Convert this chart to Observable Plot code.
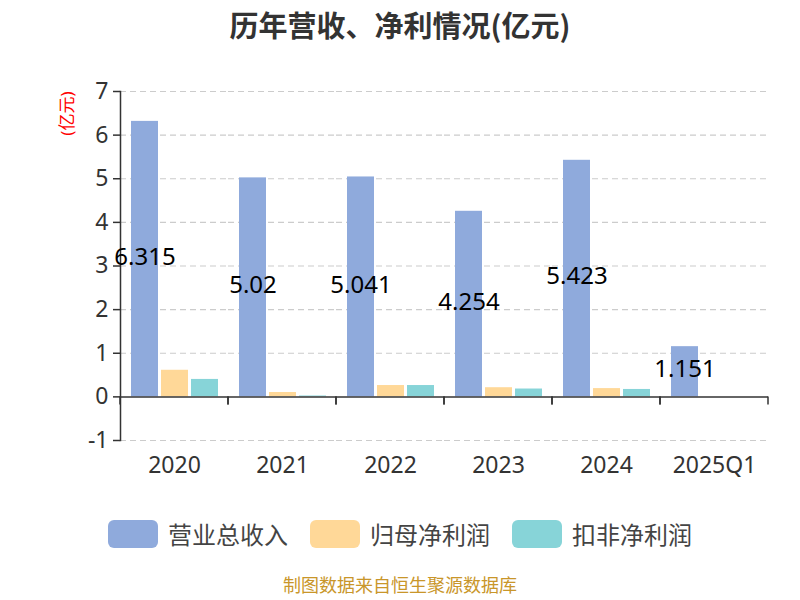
<!DOCTYPE html>
<html>
<head>
<meta charset="utf-8">
<script src="https://cdn.jsdelivr.net/npm/d3@7"></script>
<script src="https://cdn.jsdelivr.net/npm/@observablehq/plot@0.6"></script>
<style>
  body { margin: 0; background: #fff; font-family: 'Noto Sans', 'Noto Sans CJK SC', sans-serif; }
  #wrap { width: 800px; height: 600px; position: relative; }
  #title { height: 60px; line-height: 48px; text-align: center; font-size: 29px; font-weight: bold; color: #333; font-family: 'Noto Sans CJK SC', sans-serif; }
  #legend { display: flex; justify-content: center; align-items: center; margin-top: 26px; font-size: 24px; color: #444; font-family: 'Noto Sans CJK SC', sans-serif; }
  .item { display: flex; align-items: center; margin: 0 11px; }
  .sw { width: 50px; height: 28px; border-radius: 6px; margin-right: 10px; }
  #caption { text-align: center; font-size: 18px; color: #c9962a; margin-top: 20px; font-family: 'Noto Sans CJK SC', sans-serif; }
</style>
</head>
<body>
<div id="wrap">
  <div id="title"></div>
  <div id="chart"></div>
  <div id="legend"></div>
  <div id="caption"></div>
</div>
<script>
const titleText = "历年营收、净利情况(亿元)";
const yLabel = "(亿元)";
const captionText = "制图数据来自恒生聚源数据库";
const years = ["2020", "2021", "2022", "2023", "2024", "2025Q1"];
const seriesNames = ["营业总收入", "归母净利润", "扣非净利润"];
const revenue = [6.315, 5.02, 5.041, 4.254, 5.423, 1.151];
const netProfit = [0.61, 0.10, 0.26, 0.21, 0.19, null];
const deductedProfit = [0.40, 0.02, 0.26, 0.18, 0.17, null];
const colors = ["#8FAADC", "#FFD898", "#87D4D8"];
const yTicks = [-1, 0, 1, 2, 3, 4, 5, 6, 7];

document.getElementById("title").textContent = titleText;
document.getElementById("caption").textContent = captionText;

const seriesValues = [revenue, netProfit, deductedProfit];
const rows = years.flatMap((yr, i) =>
  seriesNames.map((s, j) => ({year: yr, series: s, value: seriesValues[j][i]}))
).filter(d => d.value != null);

function boundaryTicks(index, scales, values, dim) {
  const g = d3.create("svg:g");
  const y0 = scales.y(0);
  for (const x of [dim.marginLeft, dim.width - dim.marginRight]) {
    g.append("line").attr("x1", x).attr("x2", x).attr("y1", y0).attr("y2", y0 + 8)
      .attr("stroke", "#333").attr("stroke-width", 1.5);
  }
  return g.node();
}

const chart = Plot.plot({
  width: 800,
  height: 430,
  marginTop: 31,
  marginBottom: 50,
  marginLeft: 120,
  marginRight: 32,
  style: {fontFamily: "'Noto Sans', 'Noto Sans CJK SC', sans-serif", color: "#333", background: "transparent"},
  fx: {domain: years, padding: 0, label: null},
  x: {domain: seriesNames, paddingInner: 0.1, paddingOuter: 0.35, axis: null},
  y: {domain: [-1, 7], axis: null},
  color: {domain: seriesNames, range: colors},
  marks: [
    Plot.ruleY(yTicks.filter(t => t !== 0), {stroke: "#ccc", strokeDasharray: "6,4", strokeWidth: 1.2}),
    Plot.barY(rows, {fx: "year", x: "series", y: "value", fill: "series"}),
    Plot.ruleY([0], {stroke: "#333", strokeWidth: 1.5}),
    boundaryTicks,
    Plot.frame({anchor: "left", facetAnchor: "left", stroke: "#333", strokeWidth: 1.5}),
    Plot.axisY({ticks: yTicks, tickFormat: d => String(d), tickSize: 7, tickPadding: 5, fontSize: 23, label: null, stroke: "#333", strokeWidth: 1.5}),
    Plot.axisFx({tickSize: 0, tickPadding: 16, fontSize: 23, label: null, anchor: "bottom"}),
    Plot.text(rows.filter(d => d.series === seriesNames[0]), {
      fx: "year", x: "series", y: d => d.value / 2, text: d => String(d.value), fontSize: 24, dy: -2, fill: "#000"
    }),
    Plot.text([yLabel], {fx: [years[0]], frameAnchor: "top-left", dx: -60, rotate: -90, textAnchor: "end", fill: "red", fontSize: 17})
  ]
});
document.getElementById("chart").appendChild(chart);

const legend = document.getElementById("legend");
seriesNames.forEach((s, i) => {
  const item = document.createElement("div");
  item.className = "item";
  const sw = document.createElement("div");
  sw.className = "sw";
  sw.style.background = colors[i];
  const t = document.createElement("span");
  t.textContent = s;
  item.appendChild(sw);
  item.appendChild(t);
  legend.appendChild(item);
});
</script>
</body>
</html>
